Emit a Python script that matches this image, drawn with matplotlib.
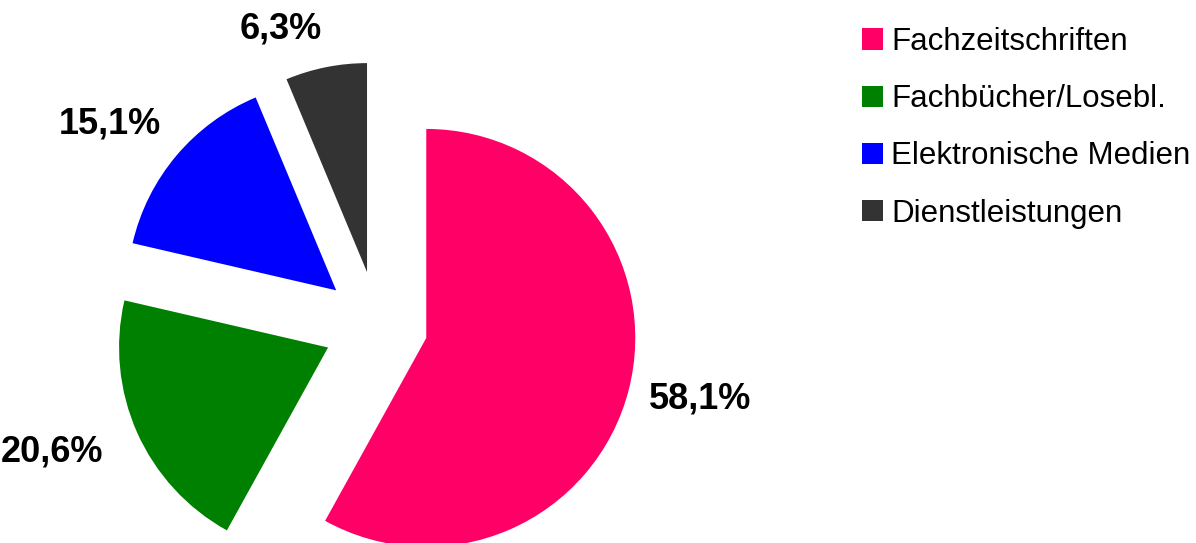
import numpy as np
import matplotlib
matplotlib.use("Agg")
import matplotlib.pyplot as plt

# Umsatzanteile nach Produktgruppe
kategorien = ["Fachzeitschriften", "Fachbücher/Losebl.", "Elektronische Medien", "Dienstleistungen"]
anteile = [58.1, 20.6, 15.1, 6.3]
beschriftungen = ["58,1%", "20,6%", "15,1%", "6,3%"]
farben = ["#FF0066", "#008000", "#0000FF", "#333333"]
explode = [0.24, 0.26, 0.26, 0.26]

plt.rcParams['font.family'] = ['Liberation Sans', 'DejaVu Sans']

fig = plt.figure(figsize=(11.96, 5.43), dpi=100)
ax = fig.add_axes([0, 0, 1, 1])

wedges, _ = ax.pie(anteile, colors=farben, explode=explode, startangle=90,
                   counterclock=False, radius=1, center=(0, 0),
                   wedgeprops=dict(linewidth=0))

# Achsen so, dass 1 Einheit = 209 px und der Mittelpunkt bei (377.7, 325.4) px liegt
r_px = 209.0
cx, cy = 377.7, 325.4
ax.set_xlim(-cx / r_px, (1196 - cx) / r_px)
ax.set_ylim(-(543 - cy) / r_px, cy / r_px)
ax.set_aspect('equal', adjustable='box')
ax.axis('off')

# Prozentwerte ausserhalb der Segmente
abstand = [1.1, 1.18, 1.1, 1.1]
for w, text, d in zip(wedges, beschriftungen, abstand):
    mitte = np.deg2rad((w.theta1 + w.theta2) / 2)
    ux, uy = np.cos(mitte), np.sin(mitte)
    x0, y0 = w.center
    ha = 'left' if ux > 0 else 'right'
    if abs(uy) < 0.5:
        va = 'center_baseline'
    else:
        va = 'bottom' if uy > 0 else 'top'
    ax.text(x0 + d * ux, y0 + d * uy, text, ha=ha, va=va,
            fontsize=26, fontweight='bold', color='black')

ax.legend(wedges, kategorien, loc='upper left',
          bbox_to_anchor=(862 / 1196, 1 - 27 / 543), bbox_transform=fig.transFigure,
          frameon=False, fontsize=22.5, handlelength=0.68, handleheight=0.68,
          handletextpad=0.25, labelspacing=0.87, borderpad=0, borderaxespad=0)

fig.savefig("out.png", dpi=100)
